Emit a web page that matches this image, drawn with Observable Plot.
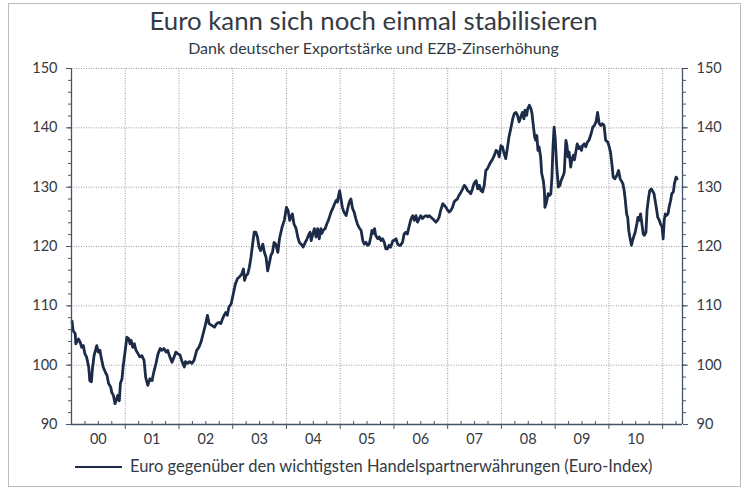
<!DOCTYPE html>
<html><head><meta charset="utf-8">
<script src="https://cdn.jsdelivr.net/npm/d3@7"></script>
<script src="https://cdn.jsdelivr.net/npm/@observablehq/plot@0.6"></script>
<style>
body{margin:0;background:#fff;font-family:Lato,sans-serif;}
#wrap{position:relative;width:747px;height:490px;overflow:hidden;}
#frame{position:absolute;left:8px;top:3px;width:733px;height:484px;border:1px solid #b8bdc4;box-sizing:border-box;}
#title{position:absolute;top:5px;left:0;width:747px;text-align:center;font-size:25.8px;color:#343a44;line-height:30px;}
#subtitle{position:absolute;top:38px;left:0;width:747px;text-align:center;font-size:16px;color:#343a44;line-height:19px;}
#legend{position:absolute;top:456px;left:75px;font-size:16.5px;color:#343a44;line-height:20px;white-space:nowrap;}
#legend span.sw{display:inline-block;width:47px;height:0;border-top:2.6px solid #1c2b48;vertical-align:middle;margin-right:8px;position:relative;top:-1px;}
#chart{position:absolute;left:0;top:0;}
</style></head>
<body>
<div id="wrap">
  <div id="frame"></div>
  <div id="chart"></div>
  <div id="title">Euro kann sich noch einmal stabilisieren</div>
  <div id="subtitle">Dank deutscher Exportstärke und EZB-Zinserhöhung</div>
  <div id="legend"><span class="sw"></span>Euro gegenüber den wichtigsten Handelspartnerwährungen (Euro-Index)</div>
</div>
<script>
// Decimal year of each observation
const dates = [
2000.01,2000.03,2000.07,2000.08,2000.13,2000.16,2000.19,2000.22,2000.25,2000.28,2000.32,2000.34,2000.37,2000.39,2000.42,2000.47,2000.50,2000.53,2000.55,2000.59,2000.63,2000.66,2000.69,2000.73,2000.75,2000.78,2000.81,2000.84,2000.86,2000.89,2000.91,2000.94,2000.96,
2001.00,2001.03,2001.06,2001.09,2001.11,2001.14,2001.17,2001.20,2001.24,2001.27,2001.31,2001.35,2001.38,2001.42,2001.46,2001.50,2001.53,2001.57,2001.61,2001.65,2001.68,2001.72,2001.76,2001.79,2001.83,2001.87,2001.91,2001.94,2001.98,
2002.02,2002.05,2002.10,2002.12,2002.16,2002.20,2002.24,2002.28,2002.33,2002.37,2002.41,2002.45,2002.49,2002.53,2002.56,2002.61,2002.66,2002.70,2002.74,2002.78,2002.81,2002.84,2002.87,2002.90,2002.93,2002.97,
2003.01,2003.05,2003.09,2003.13,2003.17,2003.20,2003.22,2003.25,2003.28,2003.31,2003.34,2003.37,2003.40,2003.43,2003.46,2003.49,2003.52,2003.56,2003.59,2003.62,2003.65,2003.68,2003.71,2003.74,2003.77,2003.80,2003.84,2003.87,2003.92,2003.96,
2004.00,2004.03,2004.06,2004.11,2004.14,2004.18,2004.21,2004.24,2004.29,2004.31,2004.35,2004.37,2004.41,2004.44,2004.46,2004.50,2004.52,2004.55,2004.58,2004.61,2004.64,2004.66,2004.68,2004.72,2004.75,2004.78,2004.83,2004.87,2004.91,2004.93,2004.95,2004.97,2004.99,
2005.01,2005.04,2005.07,2005.11,2005.14,2005.17,2005.20,2005.23,2005.26,2005.29,2005.32,2005.35,2005.39,2005.42,2005.45,2005.48,2005.51,2005.54,2005.57,2005.59,2005.61,2005.64,2005.66,2005.70,2005.73,2005.76,2005.79,2005.82,2005.85,2005.88,2005.91,2005.94,2005.98,
2006.00,2006.04,2006.07,2006.10,2006.12,2006.16,2006.19,2006.22,2006.25,2006.28,2006.32,2006.35,2006.38,2006.41,2006.44,2006.47,2006.50,2006.53,2006.56,2006.60,2006.63,2006.66,2006.69,2006.72,2006.75,2006.78,2006.81,2006.84,2006.87,2006.91,2006.94,2006.97,
2007.00,2007.03,2007.06,2007.09,2007.12,2007.15,2007.18,2007.21,2007.25,2007.28,2007.31,2007.34,2007.37,2007.40,2007.43,2007.46,2007.49,2007.53,2007.56,2007.59,2007.62,2007.65,2007.68,2007.71,2007.74,2007.77,2007.80,2007.84,2007.87,2007.90,2007.93,2007.96,2007.99,
2008.02,2008.05,2008.08,2008.11,2008.14,2008.18,2008.21,2008.24,2008.27,2008.30,2008.33,2008.36,2008.39,2008.42,2008.44,2008.47,2008.49,2008.52,2008.55,2008.57,2008.59,2008.62,2008.64,2008.66,2008.68,2008.70,2008.73,2008.75,2008.78,2008.80,2008.81,2008.84,2008.87,2008.89,2008.92,2008.94,2008.96,2008.98,
2009.00,2009.03,2009.05,2009.06,2009.09,2009.11,2009.14,2009.17,2009.20,2009.22,2009.24,2009.26,2009.29,2009.31,2009.34,2009.36,2009.39,2009.41,2009.44,2009.46,2009.49,2009.51,2009.54,2009.57,2009.60,2009.63,2009.67,2009.70,2009.73,2009.76,2009.79,2009.82,2009.85,2009.88,2009.91,2009.94,2009.98,
2010.00,2010.03,2010.06,2010.08,2010.11,2010.13,2010.15,2010.18,2010.21,2010.23,2010.26,2010.28,2010.30,2010.33,2010.35,2010.37,2010.39,2010.42,2010.44,2010.47,2010.49,2010.52,2010.54,2010.56,2010.59,2010.61,2010.64,2010.66,2010.69,2010.71,2010.74,2010.76,2010.79,2010.81,2010.84,2010.86,2010.89,2010.91,2010.94,2010.96,2010.99,
2011.01,2011.03,2011.05,2011.07,2011.10,2011.12,2011.15,2011.17,2011.20,2011.22,2011.25,2011.27
];
// Euro-Index value of each observation
const euroIndex = [
107.4,105.8,105.3,103.6,104.4,103.9,103.0,103.3,101.9,101.4,99.7,97.4,97.2,99.4,101.6,103.3,102.2,102.5,101.4,99.7,98.8,98.3,96.9,96.3,95.4,94.9,93.5,94.3,94.9,94.0,96.9,97.7,99.7,
102.5,104.7,104.5,103.6,104.2,103.0,103.6,102.5,101.9,101.4,101.6,100.8,98.0,96.6,97.7,97.4,98.8,100.2,101.9,102.8,102.5,102.8,102.2,102.5,101.4,100.5,101.4,102.2,101.9,
101.7,100.8,99.7,100.6,100.3,100.6,100.3,100.8,102.5,103.0,103.9,105.3,106.7,108.4,107.0,106.7,106.4,107.0,107.2,107.0,107.8,108.4,108.9,108.4,109.8,110.3,
112.0,113.7,114.6,114.9,115.4,116.2,114.3,115.1,115.4,116.5,118.2,120.4,122.4,122.4,121.6,119.9,119.3,120.4,119.0,118.2,115.9,117.1,118.5,119.0,120.7,120.4,119.0,121.3,123.3,124.4,
126.6,126.1,124.4,125.5,123.8,123.0,121.6,120.7,120.2,119.9,120.7,121.0,121.9,122.4,121.0,122.4,123.0,121.6,123.0,121.3,123.0,122.2,122.7,123.0,123.8,124.4,125.8,126.6,127.5,127.8,127.5,128.6,129.4,
128.3,126.6,125.8,125.2,126.4,127.5,128.0,126.4,125.8,124.7,123.8,123.2,122.7,121.0,120.4,120.7,120.2,120.4,121.6,122.7,122.2,123.0,121.9,121.3,121.6,121.0,121.3,120.7,119.6,119.6,120.2,119.9,121.0,
121.0,121.3,120.4,120.2,120.2,120.7,122.1,122.4,122.1,123.3,124.7,125.2,124.4,125.2,124.1,124.7,125.2,124.7,125.0,125.2,125.0,125.2,124.9,124.7,124.4,124.1,124.4,124.9,126.1,127.2,126.9,126.6,
126.1,125.8,126.1,126.6,127.5,127.8,128.0,128.6,129.2,129.7,130.3,130.0,129.4,129.2,128.9,129.7,130.6,131.1,129.7,130.3,129.4,129.2,130.3,132.8,133.1,133.7,134.2,134.8,135.4,136.2,136.0,135.1,137.0,
136.8,135.7,134.8,136.5,138.4,140.1,141.5,142.4,142.6,142.1,141.0,141.8,142.6,141.5,143.0,142.1,143.2,143.8,143.2,142.4,140.7,138.4,137.9,138.7,136.2,136.8,135.1,132.3,131.1,129.4,126.6,127.5,128.9,128.6,128.9,131.7,136.7,140.1,
138.4,133.4,131.1,130.0,130.3,131.1,131.7,132.5,137.9,137.0,135.1,135.9,133.4,134.6,135.4,134.6,136.2,137.3,136.5,136.8,136.2,137.0,137.3,136.8,137.6,137.9,139.0,140.1,140.4,141.0,142.6,140.7,140.4,140.7,140.4,137.9,137.6,
137.0,135.9,133.6,131.7,131.4,131.7,132.0,132.8,131.4,131.1,130.6,129.7,128.3,125.5,124.9,122.7,121.6,120.2,121.0,121.9,122.4,123.8,124.9,124.4,125.5,124.1,122.1,121.9,122.4,126.1,128.3,129.4,129.7,129.4,128.9,127.8,126.1,124.9,124.4,123.8,123.3,
121.3,124.4,125.5,125.2,125.5,126.6,127.8,128.9,129.2,130.6,131.7,131.4
];
const yearLabels = ["00","01","02","03","04","05","06","07","08","09","10"];
const yMajor = [90,100,110,120,130,140,150];
const yGrid = [100,110,120,130,140,150];

const data = dates.map((t, i) => ({t, v: euroIndex[i]}));
const xMin = 2000, xMax = 2011.37;
const yearBreaks = d3.range(2001, 2012);
const quarterTicks = d3.range(2000.25, xMax, 0.25).filter(d => Math.abs(d % 1) > 1e-6);
const labelPos = yearLabels.map((s, i) => 2000.5 + i);
const yMinor = d3.range(90, 151, 2);
const axisCol = "#46546a";
const gridStyle = {stroke: "#9a9a9a", strokeOpacity: 1, strokeDasharray: "1,1.5", strokeWidth: 1};

const chart = Plot.plot({
  width: 747, height: 490,
  marginLeft: 71, marginRight: 65, marginTop: 68, marginBottom: 66,
  x: {domain: [xMin, xMax]},
  y: {domain: [90, 150]},
  style: {fontFamily: "Lato, sans-serif", fontSize: "14px", color: "#343a44", background: "transparent"},
  marks: [
    Plot.gridY(yGrid, gridStyle),
    Plot.gridX(yearBreaks, gridStyle),
    Plot.line(data, {x: "t", y: "v", stroke: "#1c2b48", strokeWidth: 2.8}),
    Plot.ruleX([xMin], {stroke: axisCol, strokeWidth: 1.3}),
    Plot.ruleX([xMax], {stroke: axisCol, strokeWidth: 1.3}),
    Plot.ruleY([90], {stroke: axisCol, strokeWidth: 1.3}),
    Plot.axisX(quarterTicks, {anchor: "bottom", tickSize: -3, fill: "none", stroke: axisCol, label: null}),
    Plot.axisX(yearBreaks, {anchor: "bottom", tickSize: 5, fill: "none", stroke: axisCol, label: null}),
    Plot.axisX(labelPos, {anchor: "bottom", tickSize: 0, tickPadding: 9, tickFormat: d => yearLabels[Math.round(d - 2000.5)], fill: "#343a44", fontSize: 14.5, label: null}),
    Plot.axisY(yMinor, {anchor: "left", tickSize: 3, fill: "none", stroke: axisCol, label: null}),
    Plot.axisY(yMajor, {anchor: "left", tickSize: 5, tickPadding: 9, stroke: axisCol, fill: "#343a44", fontSize: 14.5, label: null}),
    Plot.axisY(yMinor, {anchor: "right", tickSize: 3, fill: "none", stroke: axisCol, label: null}),
    Plot.axisY(yMajor, {anchor: "right", tickSize: 5, tickPadding: 9, stroke: axisCol, fill: "#343a44", fontSize: 14.5, label: null})
  ]
});
document.getElementById("chart").appendChild(chart);
</script>
</body></html>
